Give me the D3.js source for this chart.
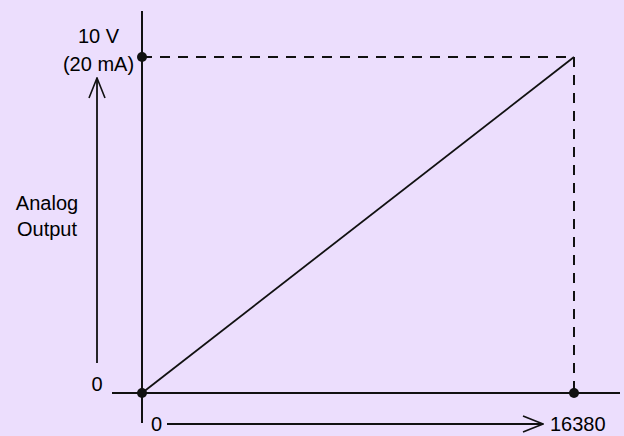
<!DOCTYPE html>
<html>
<head>
<meta charset="utf-8">
<script src="https://cdn.jsdelivr.net/npm/d3@7/dist/d3.min.js"></script>
<style>
  html, body { margin: 0; padding: 0; background: #ecdefd; }
  svg { display: block; }
  text { font-family: "Liberation Sans", Arial, sans-serif; font-size: 20px; fill: #000; }
</style>
</head>
<body>
<svg id="chart" width="624" height="436"></svg>
<script>
// data
var digitalValues = [0, 16380];
var outputValues = [0, 10];
var yLabels = ["0", "10 V", "(20 mA)"];
var xLabels = ["0", "16380"];
var yTitle = ["Analog", "Output"];

var W = 624, H = 436;
var svg = d3.select("#chart");
var ink = "#111";

// scales
var x = d3.scaleLinear().domain([0, 16380]).range([142, 574]);
var y = d3.scaleLinear().domain([0, 10]).range([393, 57]);

svg.append("rect").attr("width", W).attr("height", H).attr("fill", "#ecdefd");

// open arrow head
var defs = svg.append("defs");
defs.append("marker")
    .attr("id", "openArrow")
    .attr("viewBox", "0 0 22 20")
    .attr("refX", 21).attr("refY", 10)
    .attr("markerWidth", 22).attr("markerHeight", 20)
    .attr("markerUnits", "userSpaceOnUse")
    .attr("orient", "auto")
    .append("path")
    .attr("d", "M1,2 L21,10 L1,18")
    .attr("fill", "none")
    .attr("stroke", ink)
    .attr("stroke-width", 1.6);

// axes
svg.append("line")
    .attr("x1", x(0)).attr("x2", x(0))
    .attr("y1", 11).attr("y2", 423)
    .attr("stroke", ink).attr("stroke-width", 2);
svg.append("line")
    .attr("x1", 112).attr("x2", 620)
    .attr("y1", y(0)).attr("y2", y(0))
    .attr("stroke", ink).attr("stroke-width", 2);

// dashed guides
var maxX = d3.max(digitalValues), maxY = d3.max(outputValues);
svg.append("path")
    .attr("d", "M" + x(0) + "," + y(maxY) + " H" + x(maxX) + " V" + y(0))
    .attr("fill", "none")
    .attr("stroke", ink).attr("stroke-width", 2)
    .attr("stroke-dasharray", "10,8");

// the line itself
var pts = digitalValues.map(function (d, i) { return [d, outputValues[i]]; });
svg.append("path")
    .datum(pts)
    .attr("d", d3.line().x(function (d) { return x(d[0]); }).y(function (d) { return y(d[1]); }))
    .attr("fill", "none")
    .attr("stroke", ink).attr("stroke-width", 1.8);

// dots
var dots = [[0, 0], [0, maxY], [maxX, 0]];
svg.selectAll("circle.dot")
    .data(dots)
    .enter().append("circle")
    .attr("class", "dot")
    .attr("cx", function (d) { return x(d[0]); })
    .attr("cy", function (d) { return y(d[1]); })
    .attr("r", 5)
    .attr("fill", ink);

// y side labels
svg.append("text").attr("x", 98.5).attr("y", 43).attr("text-anchor", "middle").text(yLabels[1]);
svg.append("text").attr("x", 98.5).attr("y", 71).attr("text-anchor", "middle").text(yLabels[2]);
svg.append("text").attr("x", 97).attr("y", 391).attr("text-anchor", "middle").text(yLabels[0]);

// y arrow
svg.append("line")
    .attr("x1", 97).attr("x2", 97)
    .attr("y1", 363).attr("y2", 78)
    .attr("stroke", ink).attr("stroke-width", 1.8)
    .attr("marker-end", "url(#openArrow)");

yTitle.forEach(function (t, i) {
    svg.append("text").attr("x", 47).attr("y", 210 + i * 25.5).attr("text-anchor", "middle").text(t);
});

// x side labels + arrow
svg.append("text").attr("x", 156.5).attr("y", 431).attr("text-anchor", "middle").text(xLabels[0]);
svg.append("line")
    .attr("x1", 167).attr("x2", 543)
    .attr("y1", 424).attr("y2", 424)
    .attr("stroke", ink).attr("stroke-width", 1.8)
    .attr("marker-end", "url(#openArrow)");
svg.append("text").attr("x", 550).attr("y", 431).text(xLabels[1]);
</script>
</body>
</html>
